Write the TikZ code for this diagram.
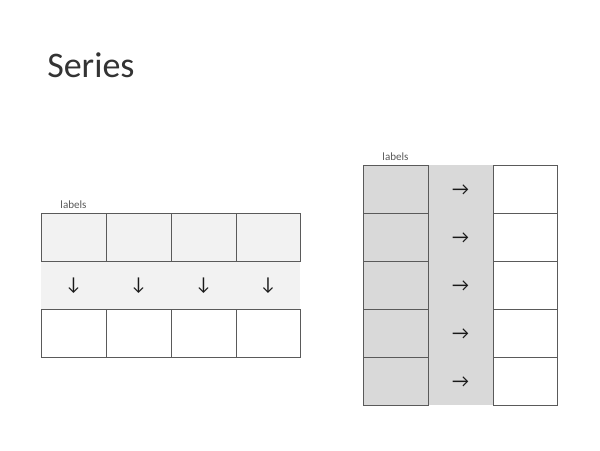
\documentclass[tikz,border=0pt]{standalone}
\usepackage{fontspec}
\setmainfont{Carlito}
\definecolor{lightcell}{HTML}{F2F2F2}
\definecolor{darkcell}{HTML}{D9D9D9}
\definecolor{gridline}{HTML}{5A5A5A}
\definecolor{labeltext}{HTML}{595959}
\begin{document}
\begin{tikzpicture}[x=0.75pt, y=-0.75pt, arrowtext/.style={font=\fontsize{14}{16}\selectfont, text=black!90, inner sep=0}]
\useasboundingbox (0,0) rectangle (600,450);

\node [anchor=base west, inner sep=0, font=\fontsize{27}{32}\selectfont, text=black!80] (title) at (47,77.5) {Series};

% left: labels above, values below
\fill [lightcell] (41,261) rectangle (300,309);
\draw [gridline, line width=.6pt, fill=lightcell] (41,213) rectangle (106,261);
\draw [gridline, line width=.6pt, fill=lightcell] (106,213) rectangle (171,261);
\draw [gridline, line width=.6pt, fill=lightcell] (171,213) rectangle (236,261);
\draw [gridline, line width=.6pt, fill=lightcell] (236,213) rectangle (300,261);
\draw [gridline, line width=.6pt, fill=white] (41,309) rectangle (106,357);
\draw [gridline, line width=.6pt, fill=white] (106,309) rectangle (171,357);
\draw [gridline, line width=.6pt, fill=white] (171,309) rectangle (236,357);
\draw [gridline, line width=.6pt, fill=white] (236,309) rectangle (300,357);
\node [font=\fontsize{8.3}{10}\selectfont, text=labeltext] (lablef) at (73.5,205) {labels};
\node [arrowtext] (down1) at (73.5,286) {↓};
\node [arrowtext] (down2) at (138.5,286) {↓};
\node [arrowtext] (down3) at (203.5,286) {↓};
\node [arrowtext] (down4) at (268,286) {↓};

% right: labels left, values right
\fill [darkcell] (428,165) rectangle (493,405);
\draw [gridline, line width=.6pt, fill=darkcell] (363,165) rectangle (428,213);
\draw [gridline, line width=.6pt, fill=darkcell] (363,213) rectangle (428,261);
\draw [gridline, line width=.6pt, fill=darkcell] (363,261) rectangle (428,309);
\draw [gridline, line width=.6pt, fill=darkcell] (363,309) rectangle (428,357);
\draw [gridline, line width=.6pt, fill=darkcell] (363,357) rectangle (428,405);
\draw [gridline, line width=.6pt, fill=white] (493,165) rectangle (557,213);
\draw [gridline, line width=.6pt, fill=white] (493,213) rectangle (557,261);
\draw [gridline, line width=.6pt, fill=white] (493,261) rectangle (557,309);
\draw [gridline, line width=.6pt, fill=white] (493,309) rectangle (557,357);
\draw [gridline, line width=.6pt, fill=white] (493,357) rectangle (557,405);
\node [font=\fontsize{8.3}{10}\selectfont, text=labeltext] (labright) at (395.5,157) {labels};
\node [arrowtext] (right1) at (460.5,190) {→};
\node [arrowtext] (right2) at (460.5,238) {→};
\node [arrowtext] (right3) at (460.5,286) {→};
\node [arrowtext] (right4) at (460.5,334) {→};
\node [arrowtext] (right5) at (460.5,382) {→};

\end{tikzpicture}
\end{document}
